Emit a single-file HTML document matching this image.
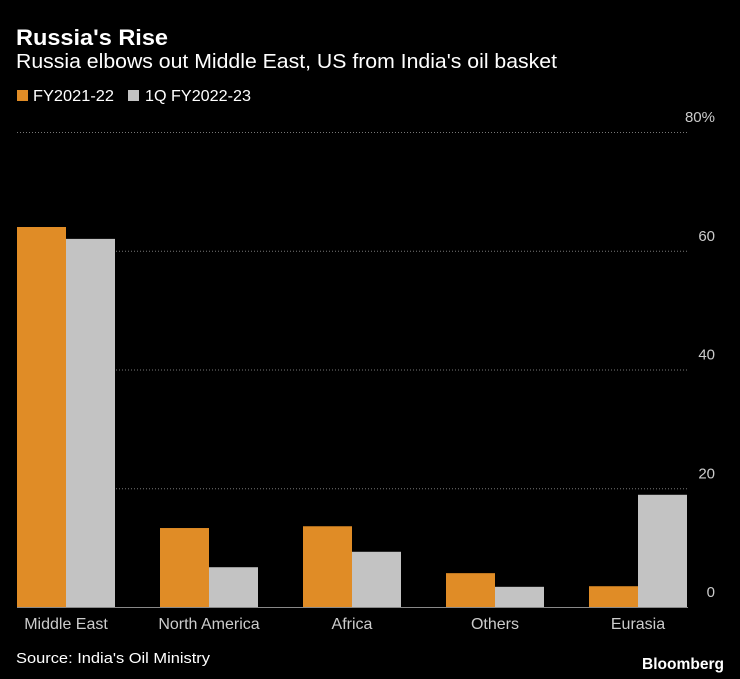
<!DOCTYPE html>
<html><head><meta charset="utf-8"><style>
html,body{margin:0;padding:0;background:#000;}
svg{display:block;font-family:"Liberation Sans Narrow","Liberation Sans",sans-serif;}
</style></head><body>
<svg id="chart" width="740" height="679" viewBox="0 0 740 679">
<rect width="740" height="679" fill="#000"/>
<text x="16" y="45" fill="#fff" font-size="22" font-weight="bold" font-family="Liberation Sans, sans-serif" textLength="152" lengthAdjust="spacingAndGlyphs">Russia's Rise</text>
<text x="16" y="68" fill="#fff" font-size="20" textLength="541" lengthAdjust="spacingAndGlyphs">Russia elbows out Middle East, US from India's oil basket</text>
<g>
<rect x="17" y="90" width="11" height="11" fill="#e08c26"/>
<text x="33" y="101" fill="#fff" font-size="16" textLength="81" lengthAdjust="spacingAndGlyphs">FY2021-22</text>
<rect x="128" y="90" width="11" height="11" fill="#c3c3c3"/>
<text x="145" y="101" fill="#fff" font-size="16" textLength="106" lengthAdjust="spacingAndGlyphs">1Q FY2022-23</text>
</g>
<g id="grid"></g><g id="bars"></g><g id="labels"></g>
<text x="16" y="663" fill="#fff" font-size="15" textLength="194" lengthAdjust="spacingAndGlyphs">Source: India's Oil Ministry</text>
<text x="724" y="669" fill="#fff" font-size="16" font-weight="bold" font-family="Liberation Sans, sans-serif" text-anchor="end" textLength="82" lengthAdjust="spacingAndGlyphs">Bloomberg</text>
</svg>
<script>
const categories=["Middle East","North America","Africa","Others","Eurasia"];
const fy2021=[64.0,13.3,13.6,5.7,3.5];
const q1fy2022=[62.0,6.7,9.3,3.4,18.9];
const ticks=[0,20,40,60,80];
const tickLabels=["0","20","40","60","80%"];
const NS="http://www.w3.org/2000/svg";
const x0=17,x1=688,yBase=607,yTop=132,vmax=80;
const y=v=>yBase-(v/vmax)*(yBase-yTop);
const bw=49, band=143;
function el(t,a,p){const e=document.createElementNS(NS,t);for(const k in a)e.setAttribute(k,a[k]);document.getElementById(p).appendChild(e);return e;}
ticks.forEach((t,i)=>{
 if(t>0){const l=el('line',{x1:x0,x2:x1,y1:y(t)+0.5,y2:y(t)+0.5,stroke:'#777','stroke-dasharray':'1,2'},'grid');
 
 }
 const tx=el('text',{x:715,y:y(t)-10,fill:'#ccc','font-size':15,'text-anchor':'end'},'labels');
 tx.textContent=tickLabels[i];
 
 
});
categories.forEach((c,i)=>{
 const bx=x0+i*band;
 const r1=el('rect',{x:bx,y:y(fy2021[i]),width:bw,height:yBase-y(fy2021[i]),fill:'#e08c26'},'bars');
 
 
 const r2=el('rect',{x:bx+bw,y:y(q1fy2022[i]),width:bw,height:yBase-y(q1fy2022[i]),fill:'#c3c3c3'},'bars');
 
 
 const t=el('text',{x:bx+bw,y:629,fill:'#ccc','font-size':16,'text-anchor':'middle'},'labels');
 t.textContent=c;
 
 
});
const base=el('line',{x1:x0,x2:x1,y1:yBase+0.5,y2:yBase+0.5,stroke:'#888'},'grid');


</script>
</body></html>
